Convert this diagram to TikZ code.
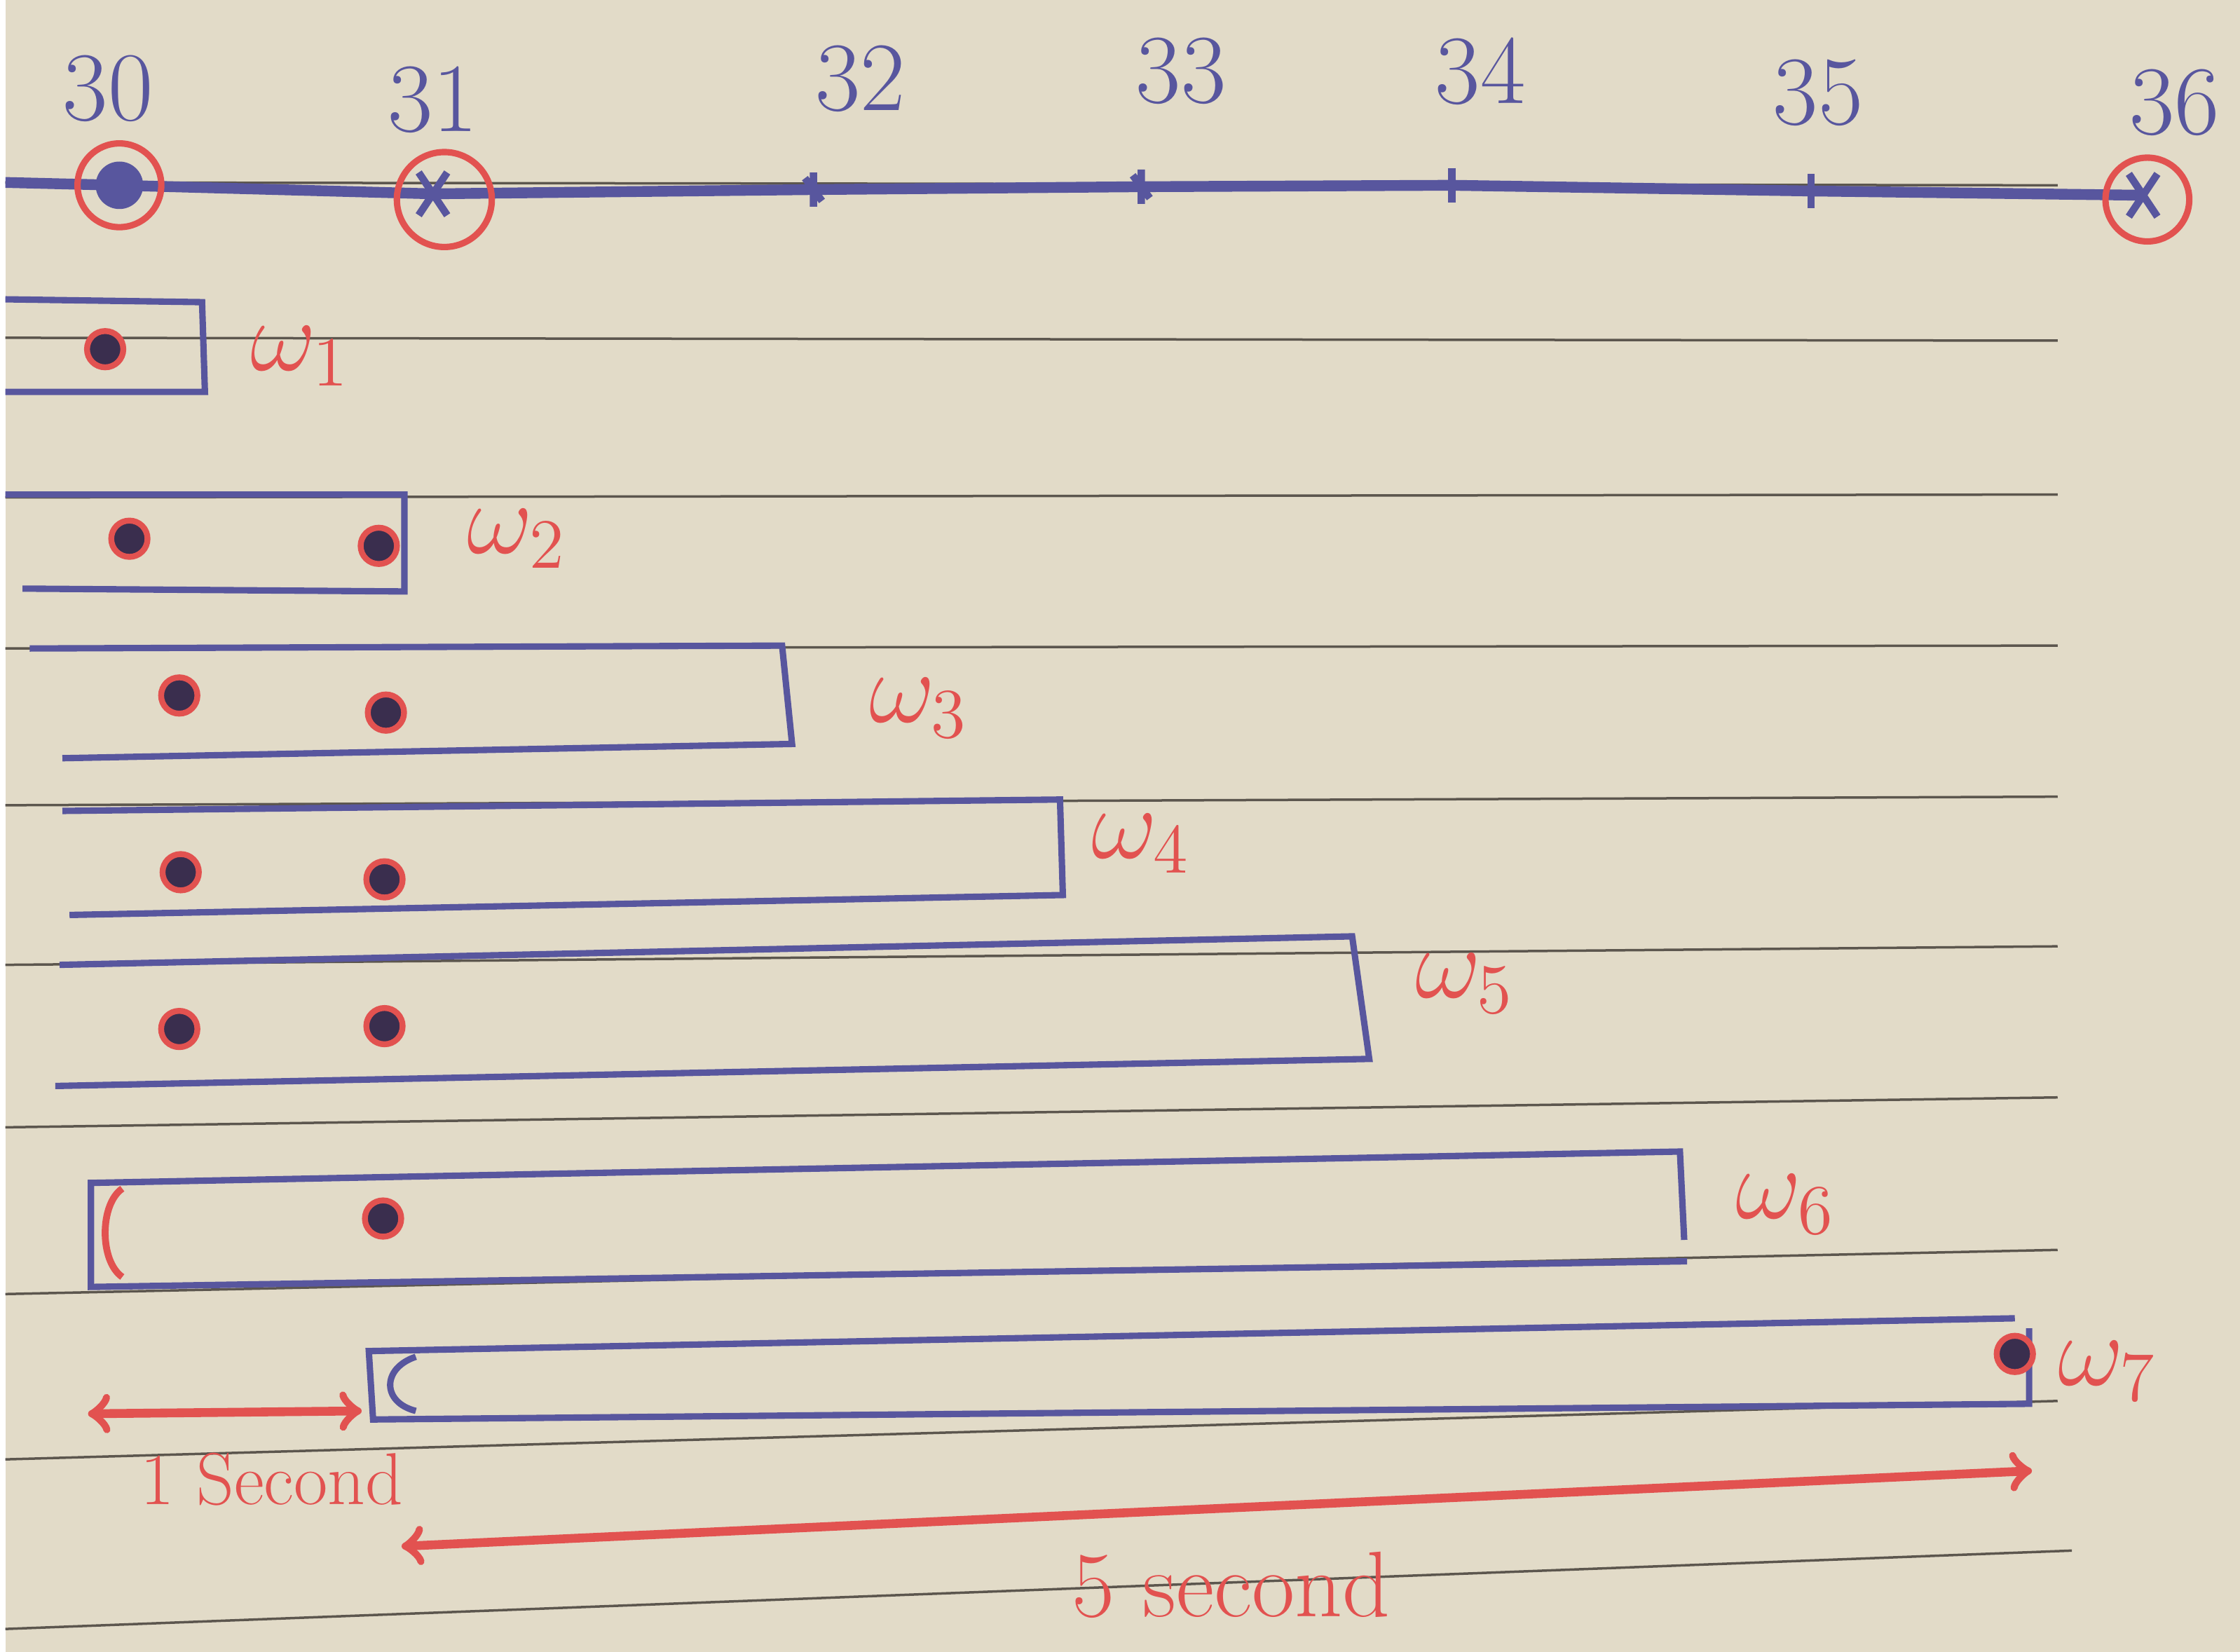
\documentclass[tikz,border=0pt]{standalone}
\usetikzlibrary{positioning,calc}

\definecolor{paper}{RGB}{226,219,200}
\definecolor{ink}{RGB}{88,86,158}
\definecolor{redink}{RGB}{226,82,80}
\definecolor{rulegray}{RGB}{92,86,78}
\definecolor{blob}{RGB}{58,46,78}

\begin{document}
\begin{tikzpicture}[
    x=0.010204cm, y=-0.010204cm,
    ruling/.style={draw=rulegray, line width=0.5pt},
    axisline/.style={draw=ink, line width=2.2pt},
    window/.style={draw=ink, line width=1.3pt},
    event/.style={circle, draw=redink, fill=blob, line width=1.2pt, minimum size=0.26cm, inner sep=0pt},
    ticklabel/.style={text=ink, font=\fontsize{20}{24}\selectfont},
    hit/.style={circle, draw=redink, line width=1.3pt, minimum size=0.6cm, inner sep=0pt},
    wlabel/.style={text=redink, font=\fontsize{22}{26}\selectfont, anchor=west},
    arrow/.style={<->, >=to, draw=redink, line width=1.8pt},
    spanlabel/.style={text=redink, font=\fontsize{15}{18}\selectfont}
]
    % paper
    \fill[paper] (0,0) rectangle (1568,1159);
    \draw[ruling] (0,128) -- (1440,130);
    \draw[ruling] (0,237) -- (1440,239);
    \draw[ruling] (0,349) -- (1440,347);
    \draw[ruling] (0,455) -- (1440,453);
    \draw[ruling] (0,565) -- (1440,559);
    \draw[ruling] (0,677) -- (1440,664);
    \draw[ruling] (0,791) -- (1440,770);
    \draw[ruling] (0,908) -- (1440,877);
    \draw[ruling] (0,1024) -- (1440,983);
    \draw[ruling] (0,1143) -- (1450,1088);

    % time axis
    \coordinate (t30) at (80,130);
    \coordinate (t31) at (300,136);
    \coordinate (t32) at (567,133);
    \coordinate (t33) at (797,131);
    \coordinate (t34) at (1015,130);
    \coordinate (t35) at (1267,134);
    \coordinate (t36) at (1500,137);
    \draw[axisline] (0,128) -- (t30) -- (t31) -- (t32) -- (t33) -- (t34) -- (t35) -- (t36);
    \fill[ink] (t30) circle (0.17cm);
    \draw[ink, line width=1.5pt] ($(t31)+(-10,-15)$) -- ($(t31)+(10,15)$) ($(t31)+(-10,15)$) -- ($(t31)+(10,-15)$);
    \draw[ink, line width=1.5pt] ($(t32)+(0,-12)$) -- ($(t32)+(0,12)$) ($(t32)+(-6,-8)$) -- ($(t32)+(6,8)$);
    \draw[ink, line width=1.5pt] ($(t33)+(0,-12)$) -- ($(t33)+(0,12)$) ($(t33)+(-6,-8)$) -- ($(t33)+(6,8)$);
    \draw[ink, line width=1.5pt] ($(t34)+(0,-12)$) -- ($(t34)+(0,12)$);
    \draw[ink, line width=1.5pt] ($(t35)+(0,-12)$) -- ($(t35)+(0,12)$);
    \draw[ink, line width=1.5pt] ($(t36)+(-10,-15)$) -- ($(t36)+(10,15)$) ($(t36)+(-10,15)$) -- ($(t36)+(10,-15)$);
    \node[hit] (h30) at (t30) {};
    \node[hit, minimum size=0.68cm] (h31) at ($(t31)+(8,4)$) {};
    \node[hit] (h36) at ($(t36)+(3,3)$) {};
    \node[ticklabel] (l30) at (72,62) {30};
    \node[ticklabel] (l31) at (300,70) {31};
    \node[ticklabel] (l32) at (600,55) {32};
    \node[ticklabel] (l33) at (825,50) {33};
    \node[ticklabel] (l34) at (1035,50) {34};
    \node[ticklabel] (l35) at (1272,65) {35};
    \node[ticklabel] (l36) at (1522,72) {36};

    % windows
    \draw[window] (0,210) -- (138,212) -- (140,275) -- (0,275);
    \node[event] (e11) at (70,245) {};
    \node[wlabel] (w1) at (160,250) {$\omega_1$};

    \draw[window] (0,347) -- (280,347) -- (280,415) -- (12,413);
    \node[event] (e21) at (87,378) {};
    \node[event] (e22) at (262,383) {};
    \node[wlabel] (w2) at (312,378) {$\omega_2$};

    \draw[window] (17,455) -- (545,453) -- (552,522) -- (40,532);
    \node[event] (e31) at (122,488) {};
    \node[event] (e32) at (267,500) {};
    \node[wlabel] (w3) at (594,497) {$\omega_3$};

    \draw[window] (40,569) -- (740,561) -- (742,628) -- (45,642);
    \node[event] (e41) at (123,612) {};
    \node[event] (e42) at (266,617) {};
    \node[wlabel] (w4) at (750,592) {$\omega_4$};

    \draw[window] (38,677) -- (945,657) -- (957,743) -- (35,762);
    \node[event] (e51) at (122,722) {};
    \node[event] (e52) at (266,720) {};
    \node[wlabel] (w5) at (977,690) {$\omega_5$};

    \draw[window] (1178,870) -- (1175,808) -- (60,830) -- (60,903) -- (1180,885);
    \draw[redink, line width=1.4pt] (82,834) .. controls (66,845) and (66,885) .. (82,896);
    \node[event] (e61) at (265,855) {};
    \node[wlabel] (w6) at (1202,845) {$\omega_6$};

    \draw[window] (1410,925) -- (255,948) -- (258,996) -- (1420,985) -- (1420,932);
    \draw[window] (288,952) .. controls (264,960) and (264,984) .. (288,990);
    \node[event] (e71) at (1410,950) {};
    \node[wlabel] (w7) at (1428,962) {$\omega_7$};

    % spans
    \coordinate (s1a) at (58,992);
    \coordinate (s1b) at (250,990);
    \draw[arrow] (s1a) -- (s1b);
    \node[spanlabel] (one) at (187,1038) {1 Second};

    \coordinate (s5a) at (278,1085);
    \coordinate (s5b) at (1422,1032);
    \draw[arrow] (s5a) -- (s5b);
    \node[spanlabel, font=\fontsize{19}{22}\selectfont] (five) at (860,1112) {5 second};
\end{tikzpicture}
\end{document}
